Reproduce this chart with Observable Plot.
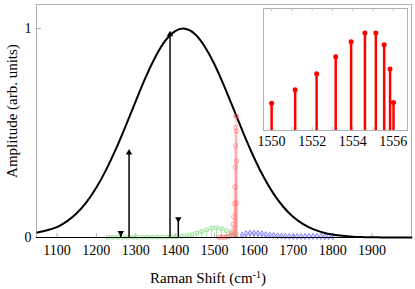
<!DOCTYPE html>
<html><head><meta charset="utf-8">
<script src="https://cdn.jsdelivr.net/npm/d3@7"></script>
<script src="https://cdn.jsdelivr.net/npm/@observablehq/plot@0.6"></script>
<style>
body{margin:0;background:#fff;}
#wrap{position:relative;width:415px;height:289px;font-family:"Liberation Serif";}
#wrap svg{position:absolute;}
.lab{position:absolute;z-index:2;font-family:"Liberation Serif";font-size:15px;line-height:18px;height:18px;width:200px;text-align:center;color:#000;white-space:nowrap;}
#ylab{left:-88px;top:102px;transform:rotate(-90deg);}
#xlab{left:108px;top:269px;}
#xlab span{font-size:10px;position:relative;top:-5px;}
</style></head><body><div id="wrap">
<div class="lab" id="ylab">Amplitude (arb. units)</div>
<div class="lab" id="xlab">Raman Shift (cm<span>-1</span>)</div>
</div>
<script>
// Envelope curve
const curveX = [1050,1075,1100,1125,1150,1175,1200,1225,1250,1275,1300,1325,1350,1375,1400,1425,1450,1475,1500,1525,1550,1575,1600,1625,1650,1675,1700,1725,1750,1775,1800,1825,1850,1875,1900,1925,1950,1975,2000];
const curveY = [0.024,0.035,0.050,0.077,0.116,0.169,0.239,0.325,0.425,0.537,0.653,0.766,0.865,0.942,0.988,0.999,0.974,0.914,0.828,0.722,0.607,0.491,0.383,0.288,0.209,0.146,0.098,0.064,0.040,0.024,0.014,0.008,0.004,0.002,0.001,0.0005,0.0002,0.0001,0];
// Black sticks with up / down triangle markers
const upX = [1283, 1387];
const upY = [0.406, 0.972];
const downX = [1262, 1408];
const downY = [0.022, 0.088];
// Green squares
const greenX = [1230,1242.5,1255,1267.5,1280,1292.5,1305,1317.5,1330,1342.5,1355,1367.5,1380,1392.5,1405,1417.5,1430,1442.5,1455,1467.5,1480,1492.5,1505,1517.5,1530,1542.5,1555];
const greenY = [0.001,0.001,0.001,0.001,0.001,0.001,0.001,0.001,0.001,0.002,0.002,0.002,0.002,0.003,0.004,0.006,0.010,0.014,0.021,0.029,0.037,0.045,0.047,0.042,0.033,0.021,0.010];
// Blue diamonds
const blueX = [1570,1580,1590,1600,1610,1620,1630,1640,1650,1660,1670,1680,1690,1700,1710,1720,1730,1740,1750,1760,1770,1780,1790,1800];
const blueY = [0.011,0.018,0.021,0.021,0.020,0.018,0.014,0.011,0.010,0.008,0.007,0.006,0.005,0.005,0.005,0.005,0.005,0.005,0.005,0.005,0.005,0.004,0.004,0.004];
// Red circles
const redX = [1510,1515,1520,1525,1530,1534,1538,1542,1545,1547,1548.5,1550.0,1551.16,1552.22,1553.16,1553.92,1554.60,1555.14,1555.55,1555.84,1556.01];
const redY = [0.001,0.001,0.002,0.002,0.003,0.004,0.006,0.010,0.030,0.062,0.100,0.162,0.242,0.337,0.439,0.527,0.580,0.580,0.509,0.366,0.166];
// Tick labels
const xTicks = [1100,1200,1300,1400,1500,1600,1700,1800,1900];
const yTicks = [0, 1];
const insetTicks = [1550,1552,1554,1556];
const insetMinor = [1550,1551,1552,1553,1554,1555,1556];

const zip = (xs, ys) => xs.map((x, i) => ({x, y: ys[i]}));
const curve = zip(curveX, curveY);
const up = zip(upX, upY);
const down = zip(downX, downY);
const green = zip(greenX, greenY);
const blue = zip(blueX, blueY);
const red = zip(redX, redY);

const FONT = "Liberation Serif";

const main = Plot.plot({
  width: 415, height: 289,
  marginLeft: 36, marginRight: 4, marginTop: 4, marginBottom: 52,
  style: {background: "white", color: "black"},
  x: {domain: [1048, 2000]},
  y: {domain: [0, 1.115]},
  marks: [
    Plot.frame({stroke: "#b0b0b0"}),
    Plot.axisX(xTicks, {tickSize: 0, tickPadding: 8, label: null, tickFormat: "d", fontSize: 14}),
    Plot.tickX(xTicks, {x: d => d, stroke: "#b0b0b0", insetTop: 229}),
    Plot.axisY(yTicks, {tickSize: 0, tickPadding: 5, label: null, tickFormat: "d", fontSize: 14}),
    Plot.tickY([1], {y: d => d, stroke: "#b0b0b0", insetRight: 370}),
    // green squares
    Plot.ruleX(green, {x: "x", y1: 0, y2: "y", stroke: "#8fe08f", strokeWidth: 0.8}),
    Plot.dot(green, {x: "x", y: "y", symbol: "square", r: 1.9, stroke: "#8fe08f", fill: "none", strokeWidth: 0.9}),
    // blue diamonds
    Plot.ruleX(blue, {x: "x", y1: 0, y2: "y", stroke: "#8080ff", strokeWidth: 0.8}),
    Plot.dot(blue, {x: "x", y: "y", symbol: "diamond", r: 1.8, stroke: "#7070ff", fill: "none", strokeWidth: 0.9}),
    // black sticks
    Plot.ruleX(down, {x: "x", y1: 0, y2: "y", stroke: "black", strokeWidth: 1.5}),
    Plot.dot(down, {x: "x", y: "y", symbol: "triangle", rotate: 180, r: 2.4, fill: "black", stroke: "none"}),
    Plot.ruleX(up, {x: "x", y1: 0, y2: "y", stroke: ["black", "#444"], strokeWidth: [1.5, 2]}),
    Plot.dot(up, {x: "x", y: "y", symbol: "triangle", r: 2.4, fill: "black", stroke: "none"}),
    // envelope
    Plot.line(curve, {x: "x", y: "y", stroke: "black", strokeWidth: 2, curve: "natural"}),
    // red circles
    Plot.ruleX(red, {x: "x", y1: 0, y2: "y", stroke: "#ff6060", strokeOpacity: 0.14, strokeWidth: 2.5}),
    Plot.dot(red, {x: "x", y: "y", symbol: "circle", r: 2.2, stroke: "#ff5050", strokeOpacity: 0.55, fill: "none", strokeWidth: 0.8}),
    Plot.ruleY([0], {stroke: "black", strokeWidth: 1.2})
  ]
});
main.style.left = "0px"; main.style.top = "0px";
document.getElementById("wrap").appendChild(main);

const inset = Plot.plot({
  width: 160, height: 150,
  marginLeft: 8, marginRight: 8, marginTop: 8, marginBottom: 20,
  style: {background: "transparent", color: "black"},
  x: {domain: [1549.6, 1556.7]},
  y: {domain: [0, 0.725], axis: null},
  marks: [
    Plot.frame({stroke: "#b0b0b0", fill: "white"}),
    Plot.tickX(insetMinor, {x: d => d, stroke: "#c0c0c0", insetTop: 119}),
    Plot.tickX(insetMinor, {x: d => d, stroke: "#c0c0c0", insetBottom: 119}),
    Plot.axisX(insetTicks, {tickSize: 0, tickPadding: 6, label: null, tickFormat: "d", fontSize: 14}),
    Plot.ruleX(red, {x: "x", y1: 0, y2: "y", stroke: "red", strokeWidth: 2.5, clip: true}),
    Plot.dot(red, {x: "x", y: "y", r: 2.5, fill: "red", stroke: "none", clip: true})
  ]
});
inset.style.left = "255px"; inset.style.top = "0px";
document.getElementById("wrap").appendChild(inset);

// serif font as a plain presentation attribute everywhere
for (const s of [main, inset]) {
  d3.select(s).attr("font-family", FONT);
  d3.select(s).selectAll("text").attr("font-family", FONT);
}
</script></body></html>
